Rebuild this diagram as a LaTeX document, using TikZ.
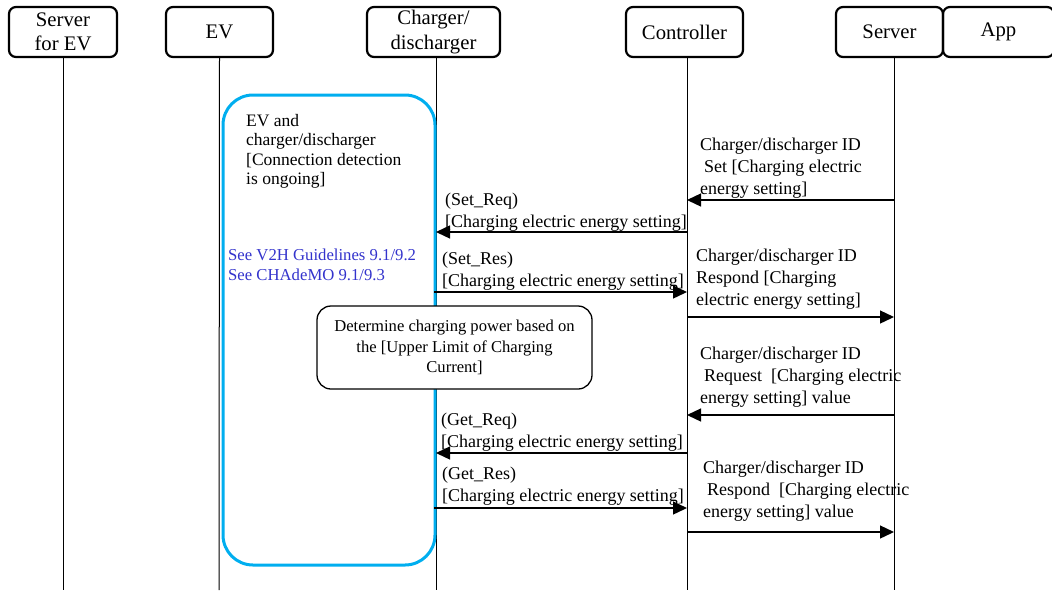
\documentclass[tikz,border=0pt]{standalone}
\usepackage{fontspec}
\setmainfont{Liberation Serif}
\usetikzlibrary{arrows.meta}
\definecolor{zonecyan}{RGB}{0,174,239}
\definecolor{refblue}{RGB}{51,51,204}
\begin{document}
\begin{tikzpicture}[x=1pt,y=-1pt,
  hdr/.style={draw, line width=2.2pt, rounded corners=7pt, minimum height=50pt,
    inner sep=0pt, align=center, font=\fontsize{20.7}{24.5}\selectfont},
  life/.style={line width=1pt},
  msg/.style={line width=1.3pt, -{Triangle[length=14pt,width=13pt]}},
  lbl/.style={anchor=north west, inner sep=0pt, align=left,
    font=\fontsize{18}{21.5}\selectfont},
  idlbl/.style={lbl, font=\fontsize{18}{22}\selectfont},
  zone/.style={draw=zonecyan, line width=3pt, rounded corners=30pt,
    minimum width=212pt, minimum height=470pt, inner sep=0pt},
  decide/.style={draw, line width=1.3pt, rounded corners=14pt, fill=white,
    minimum width=275pt, minimum height=83pt, inner sep=0pt, align=center,
    font=\fontsize{16.6}{20.5}\selectfont},
  ref/.style={anchor=north west, inner sep=0pt, align=left, text=refblue,
    font=\fontsize{16.7}{20}\selectfont}
]
\path[use as bounding box] (0,0) rectangle (1052,590);

% participants
\node[hdr, minimum width=108pt] (sev) at (63,32) {Server\\for EV};
\node[hdr, minimum width=107pt] (ev)  at (219.5,32) {EV};
\node[hdr, minimum width=133pt] (chg) at (433.5,32) {Charger/\\discharger};
\node[hdr, minimum width=117pt] (ctl) at (684.5,32) {Controller};
\node[hdr, minimum width=107pt] (srv) at (889.5,32) {Server};
\node[hdr, minimum width=111pt] (app) at (998.5,32) {App};

% lifelines
\coordinate (sevB) at (63,590);
\coordinate (evB)  at (219,590);
\coordinate (chgT) at (436,57);  \coordinate (chgB) at (436,590);
\coordinate (ctlT) at (687,57);  \coordinate (ctlB) at (687,590);
\coordinate (srvT) at (894,57);  \coordinate (srvB) at (894,590);
\draw[life] (sev.south) -- (sevB);
\draw[life] (ev.south) -- (evB);
\draw[life] (chgT) -- (chgB);
\draw[life] (ctlT) -- (ctlB);
\draw[life] (srvT) -- (srvB);

% connection-detection zone
\node[zone] (zone) at (329,330) {};
\node[anchor=north west, inner sep=0pt, align=left,
  font=\fontsize{17.5}{19.5}\selectfont] (zoneTxt) at (246,114)
  {EV and\\charger/discharger\\{}[Connection detection\\is ongoing]};
\node[ref] (refs) at (228,249)
  {See V2H Guidelines 9.1/9.2\\See CHAdeMO 9.1/9.3};

% local decision
\node[decide] (det) at (454.5,347.5)
  {Determine charging power based on\\the [Upper Limit of Charging\\Current]};

% message end points
\coordinate (a1) at (894,200); \coordinate (b1) at (687,200);
\coordinate (a2) at (687,232); \coordinate (b2) at (436,232);
\coordinate (a3) at (434,292); \coordinate (b3) at (687,292);
\coordinate (a4) at (687,317); \coordinate (b4) at (894,317);
\coordinate (a6) at (894,415); \coordinate (b6) at (687,415);
\coordinate (a7) at (687,453); \coordinate (b7) at (436,453);
\coordinate (a8) at (434,508); \coordinate (b8) at (687,508);
\coordinate (a9) at (687,532); \coordinate (b9) at (894,532);

% messages
\draw[msg] (a1) -- (b1);
\node[idlbl] (t1) at (700,138)
  {Charger/discharger ID\\\hspace*{4pt}Set [Charging electric\\energy setting]};
\draw[msg] (a2) -- (b2);
\node[lbl] (t2) at (445,193) {(Set\_Req)\\{}[Charging electric energy setting]};
\draw[msg] (a3) -- (b3);
\node[lbl] (t3) at (442,252) {(Set\_Res)\\{}[Charging electric energy setting]};
\draw[msg] (a4) -- (b4);
\node[idlbl] (t4) at (696,249)
  {Charger/discharger ID\\Respond [Charging\\electric energy setting]};
\draw[msg] (a6) -- (b6);
\node[idlbl] (t6) at (700,347)
  {Charger/discharger ID\\\hspace*{4pt}Request\ \ [Charging electric\\energy setting] value};
\draw[msg] (a7) -- (b7);
\node[lbl] (t7) at (441,413) {(Get\_Req)\\{}[Charging electric energy setting]};
\draw[msg] (a8) -- (b8);
\node[lbl] (t8) at (442,467) {(Get\_Res)\\{}[Charging electric energy setting]};
\draw[msg] (a9) -- (b9);
\node[idlbl] (t9) at (703,461)
  {Charger/discharger ID\\\hspace*{4pt}Respond\ \ [Charging electric\\energy setting] value};
\end{tikzpicture}
\end{document}
